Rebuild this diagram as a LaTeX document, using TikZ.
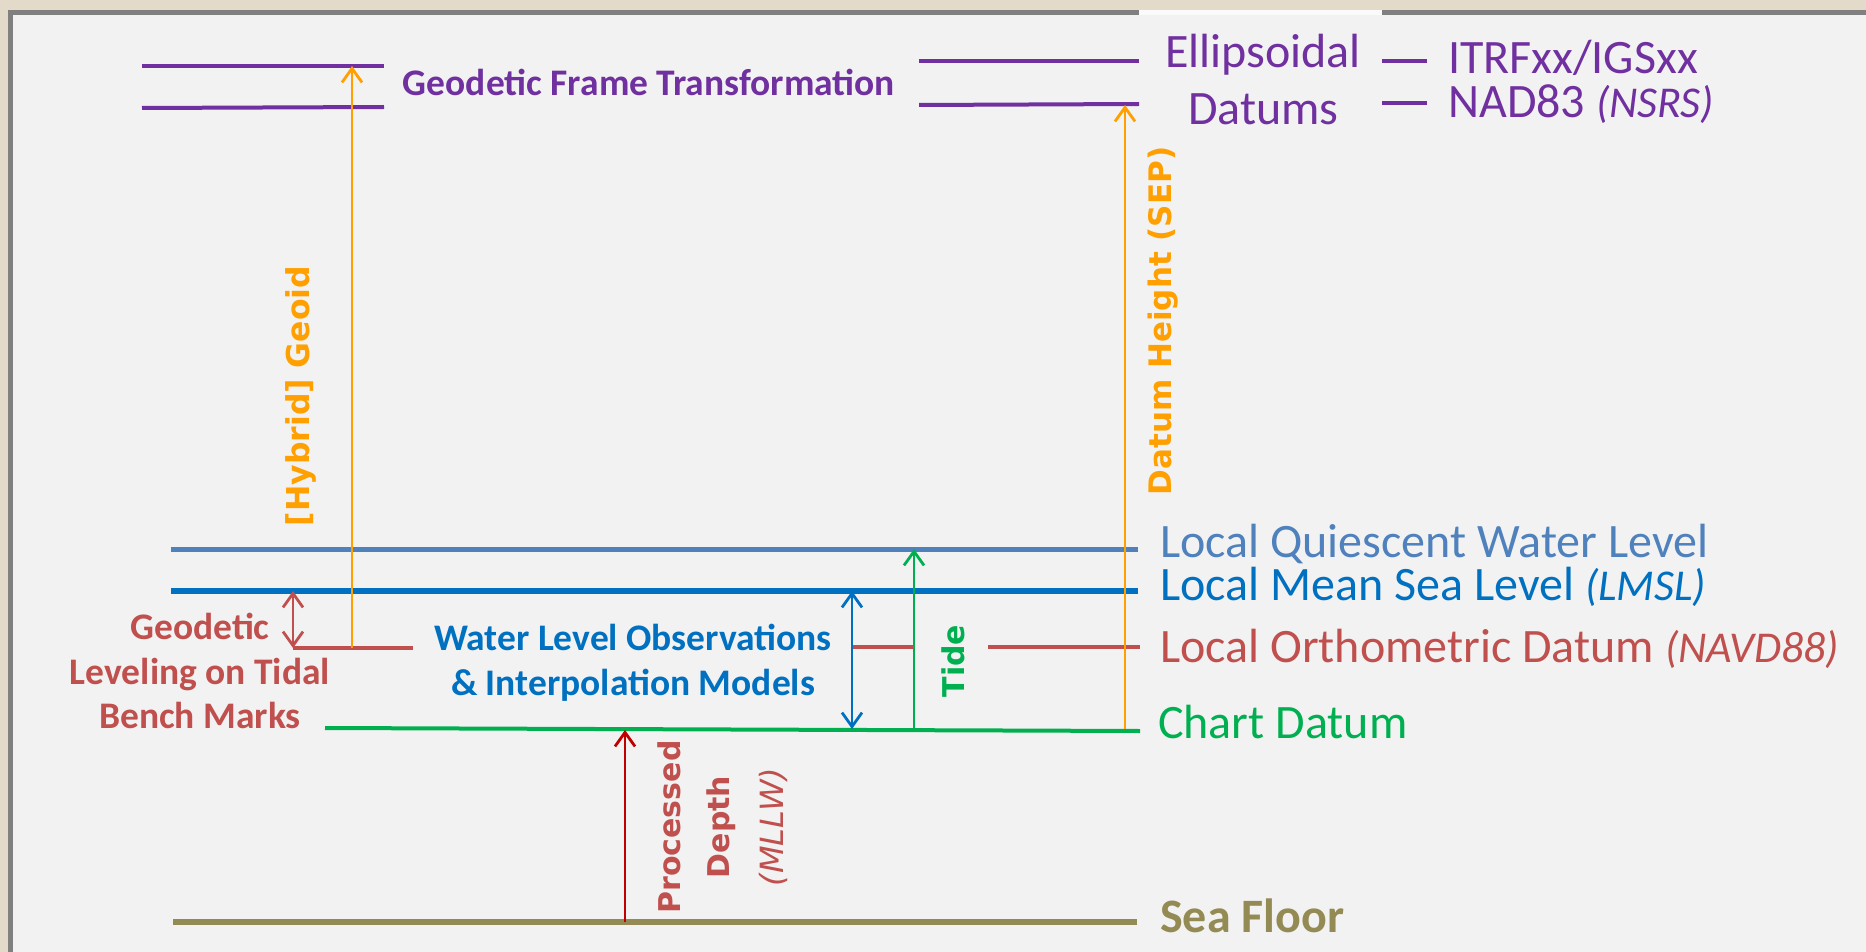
\documentclass[tikz,border=0pt]{standalone}
\usepackage{fontspec}
\setmainfont{Carlito}
\newfontfamily\vfont{DejaVu Sans}
\usetikzlibrary{arrows.meta}
\definecolor{cpurple}{HTML}{7030A0}
\definecolor{cqwl}{HTML}{4F81BD}
\definecolor{cmsl}{HTML}{0070C0}
\definecolor{cred}{HTML}{C0504D}
\definecolor{cdred}{HTML}{C00000}
\definecolor{cgreen}{HTML}{00B050}
\definecolor{colive}{HTML}{948A54}
\definecolor{corange}{HTML}{FF9F00}
\definecolor{cpanel}{HTML}{F2F2F2}
\definecolor{cbord}{HTML}{808080}
\definecolor{cbeige}{HTML}{E4DACA}
\tikzset{
  lbl/.style={font=\fontsize{48}{56}\selectfont, inner sep=0pt, anchor=base west},
  itl/.style={},
  blbl/.style={font=\bfseries\fontsize{37.5}{44}\selectfont, inner sep=0pt, anchor=base},
  vlbl/.style={font=\vfont\bfseries\fontsize{30}{36}\selectfont, rotate=90, inner sep=0pt, anchor=center},
  level/.style={line width=4pt},
  arr/.style={line width=2.8pt, -{Straight Barb[length=14pt,width=20pt]}},
  darr/.style={line width=2.8pt, {Straight Barb[length=14pt,width=20pt]}-{Straight Barb[length=14pt,width=20pt]}}
}
\newcommand{\itpart}[1]{{\itshape\fontsize{44}{50}\selectfont #1}}
\begin{document}
\begin{tikzpicture}[x=1pt,y=-1pt]
\useasboundingbox (0,0) rectangle (1866,952);
\fill[cbeige] (0,0) rectangle (1866,952);
\begin{scope}
\clip (0,0) rectangle (1866,952);
\draw[line width=5pt, draw=cbord, fill=cpanel] (10.5,12.5) rectangle (1900,1000);
\end{scope}
\fill[cpanel!40!white] (1139,10) rectangle (1382,15);

% coordinates of level lines
\coordinate (pL1a) at (142,66);  \coordinate (pL1b) at (384,66);
\coordinate (pL2a) at (142,108); \coordinate (pL2b) at (384,107);
\coordinate (pR1a) at (919,61);  \coordinate (pR1b) at (1139,61);
\coordinate (pR2a) at (919,105); \coordinate (pR2b) at (1139,104);
\coordinate (pS1a) at (1382,61); \coordinate (pS1b) at (1427,61);
\coordinate (pS2a) at (1382,103); \coordinate (pS2b) at (1427,103);
\coordinate (qwlA) at (171,549); \coordinate (qwlB) at (1138,549);
\coordinate (mslA) at (171,591); \coordinate (mslB) at (1138,591);
\coordinate (navA) at (293,648); \coordinate (navB) at (413,648);
\coordinate (navC) at (853,647); \coordinate (navD) at (914,647);
\coordinate (navE) at (988,647); \coordinate (navF) at (1140,647);
\coordinate (cdA) at (325,728);  \coordinate (cdB) at (1140,731);
\coordinate (sfA) at (173,922);  \coordinate (sfB) at (1137,922);

% level lines
\draw[level, cpurple] (pL1a) -- (pL1b);
\draw[level, cpurple] (pL2a) -- (pL2b);
\draw[level, cpurple] (pR1a) -- (pR1b);
\draw[level, cpurple] (pR2a) -- (pR2b);
\draw[level, cpurple] (pS1a) -- (pS1b);
\draw[level, cpurple] (pS2a) -- (pS2b);
\draw[line width=5pt, cqwl] (qwlA) -- (qwlB);
\draw[line width=5.5pt, cmsl] (mslA) -- (mslB);
\draw[level, cred] (navA) -- (navB);
\draw[level, cred] (navC) -- (navD);
\draw[level, cred] (navE) -- (navF);
\draw[level, cgreen] (cdA) -- (cdB);
\draw[line width=6pt, colive] (sfA) -- (sfB);

% arrow end points
\coordinate (hgB) at (352,648); \coordinate (hgT) at (352,66);
\coordinate (dhB) at (1125,729); \coordinate (dhT) at (1125,105);
\coordinate (glT) at (293,591); \coordinate (glB) at (293,648);
\coordinate (wlT) at (852,591); \coordinate (wlB) at (852,729);
\coordinate (tdB) at (914,729); \coordinate (tdT) at (914,549);
\coordinate (pdB) at (625,922); \coordinate (pdT) at (625,730);

\draw[arr, corange] (hgB) -- (hgT);
\draw[arr, corange] (dhB) -- (dhT);
\draw[darr, cred] (glT) -- (glB);
\draw[darr, cmsl] (wlT) -- (wlB);
\draw[arr, cgreen] (tdB) -- (tdT);
\draw[arr, cdred] (pdB) -- (pdT);

% right-hand labels
\node[lbl, cpurple] (ell) at (1165,68) {Ellipsoidal};
\node[lbl, cpurple] (dat) at (1188,125) {Datums};
\node[lbl, cpurple] (itrf) at (1448,74) {ITRFxx/IGSxx};
\node[lbl, cpurple] (nad) at (1448,118) {NAD83 \itpart{(NSRS)}};
\node[lbl, cqwl] (lqwl) at (1160,557) {Local Quiescent Water Level};
\node[lbl, cmsl] (lmsl) at (1160,600) {Local Mean Sea Level \itpart{(LMSL)}};
\node[lbl, cred] (lod) at (1160,662) {Local Orthometric Datum \itpart{(NAVD88)}};
\node[lbl, cgreen] (chd) at (1158,738) {Chart Datum};
\node[lbl, colive, font=\bfseries\fontsize{48}{56}\selectfont] (sfl) at (1160,932) {Sea Floor};

% bold inner labels
\node[blbl, cpurple] (gft) at (649,96) {Geodetic Frame Transformation};
\node[blbl, cmsl] (wlo1) at (633,650) {Water Level Observations};
\node[blbl, cmsl] (wlo2) at (633,695) {\& Interpolation Models};
\node[blbl, cred] (gl1) at (200,639) {Geodetic};
\node[blbl, cred] (gl2) at (200,684) {Leveling on Tidal};
\node[blbl, cred] (gl3) at (200,728) {Bench Marks};

% rotated labels
\node[vlbl, corange, font=\vfont\bfseries\fontsize{31.5}{36}\selectfont] (hyb) at (301,396) {[Hybrid] Geoid};
\node[vlbl, corange, font=\vfont\bfseries\fontsize{31}{36}\selectfont] (dhs) at (1163,321) {Datum Height (SEP)};
\node[vlbl, cgreen] (tide) at (953,661) {Tide};
\node[vlbl, cred] (proc) at (669,827) {Processed};
\node[vlbl, cred] (dep) at (721,827) {Depth};
\node[vlbl, cred, font=\vfont\itshape\fontsize{32}{36}\selectfont] (mllw) at (773,827) {(MLLW)};
\end{tikzpicture}
\end{document}
